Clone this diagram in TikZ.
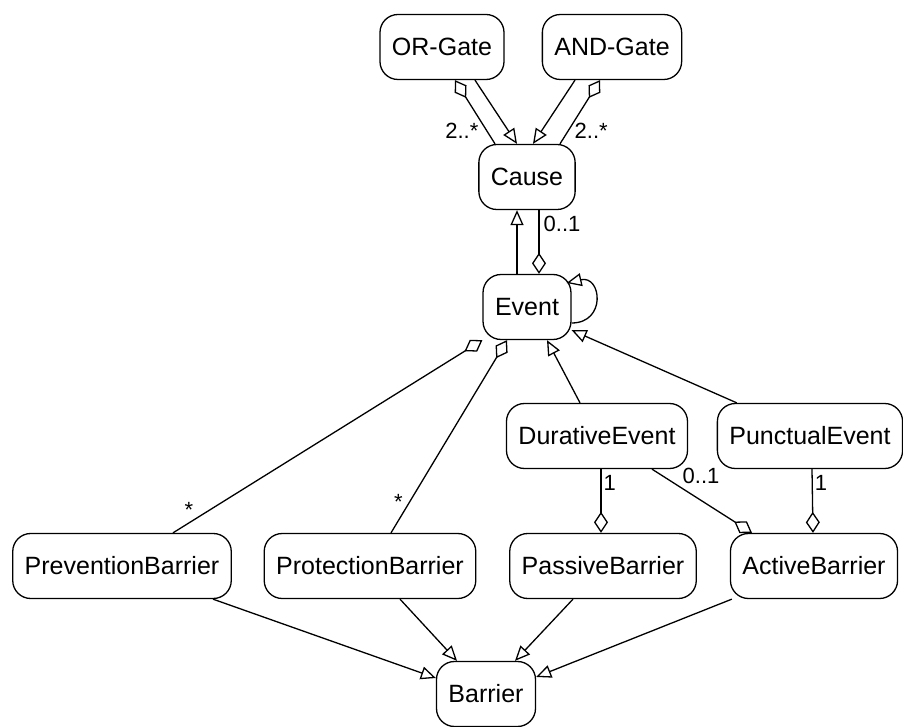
\documentclass[tikz,border=0pt]{standalone}
\usepackage{fontspec}
\setmainfont{Liberation Sans}
\usetikzlibrary{arrows.meta,positioning}

\begin{document}
\begin{tikzpicture}[x=1pt,y=-1pt,line width=1.3pt,
		cls/.style={draw,rounded corners=18pt,minimum height=65pt,inner xsep=12pt,font=\fontsize{25}{30}\selectfont},
		gen/.style={-{Triangle[open,length=15pt,width=13pt]}},
		agg/.style={{Diamond[open,length=21pt,width=14pt]}-},
		mult/.style={font=\fontsize{22}{26}\selectfont,inner sep=2pt}]
		\useasboundingbox (0,0) rectangle (903,727);
		\node[cls] (orgate) at (442,47) {OR-Gate};
		\node[cls] (andgate) at (612,47) {AND-Gate};
		\node[cls] (cause) at (527,177) {Cause};
		\node[cls] (event) at (527,307) {Event};
		\node[cls] (durative) at (597,436) {DurativeEvent};
		\node[cls] (punctual) at (810,436) {PunctualEvent};
		\node[cls] (prevention) at (122,566) {PreventionBarrier};
		\node[cls] (protection) at (370,566) {ProtectionBarrier};
		\node[cls] (passive) at (603,566) {PassiveBarrier};
		\node[cls] (active) at (814,566) {ActiveBarrier};
		\node[cls] (barrier) at (486,694) {Barrier};
		% gates
		\path[gen]
			([xshift=33pt]orgate.south) edge ([xshift=-10pt]cause.north)
			([xshift=-37pt]andgate.south) edge ([xshift=6pt]cause.north)
			([xshift=-10pt]event.north) edge ([xshift=-10pt]cause.south)
			([xshift=-17pt]durative.north) edge ([xshift=20pt]event.south)
			([xshift=20pt]punctual.north west) edge ([yshift=10pt]event.south east);
		\path[agg]
			([xshift=13pt]orgate.south) edge node[mult,pos=0.8,left,xshift=-6pt] {2..*} ([xshift=-32pt]cause.north)
			([xshift=-12pt]andgate.south) edge node[mult,pos=0.8,right,xshift=4pt] {2..*} ([xshift=33pt]cause.north)
			([xshift=12pt]event.north) edge node[mult,pos=0.78,right,xshift=2pt] {0..1} ([xshift=12pt]cause.south);
		\draw[gen] ([yshift=-16pt]event.east) .. controls +(35,0) and +(35,-8) .. ([xshift=-5pt,yshift=24pt]event.east);
		% barriers
		\path[agg]
			(event.south west) edge node[mult,pos=0.9,left,xshift=-8pt,yshift=4pt] {*} ([xshift=51pt]prevention.north)
			([xshift=-20pt]event.south) edge node[mult,pos=0.86,left,xshift=-2pt,yshift=4pt] {*} ([xshift=21pt]protection.north)
			([xshift=-2pt]passive.north) edge node[mult,pos=0.78,right] {1} ([xshift=4pt]durative.south)
			([xshift=-62pt]active.north) edge node[mult,pos=0.9,right,xshift=18pt] {0..1} ([xshift=55pt]durative.south)
			([xshift=-1pt]active.north) edge node[mult,pos=0.78,right] {1} ([xshift=2pt]punctual.south);
		\path[gen]
			([xshift=91pt]prevention.south) edge ([yshift=16pt]barrier.west)
			([xshift=30pt]protection.south) edge ([xshift=-29pt]barrier.north)
			([xshift=-30pt]passive.south) edge ([xshift=29pt]barrier.north)
			([xshift=2pt]active.south west) edge ([yshift=17pt]barrier.east);
	\end{tikzpicture}
\end{document}
